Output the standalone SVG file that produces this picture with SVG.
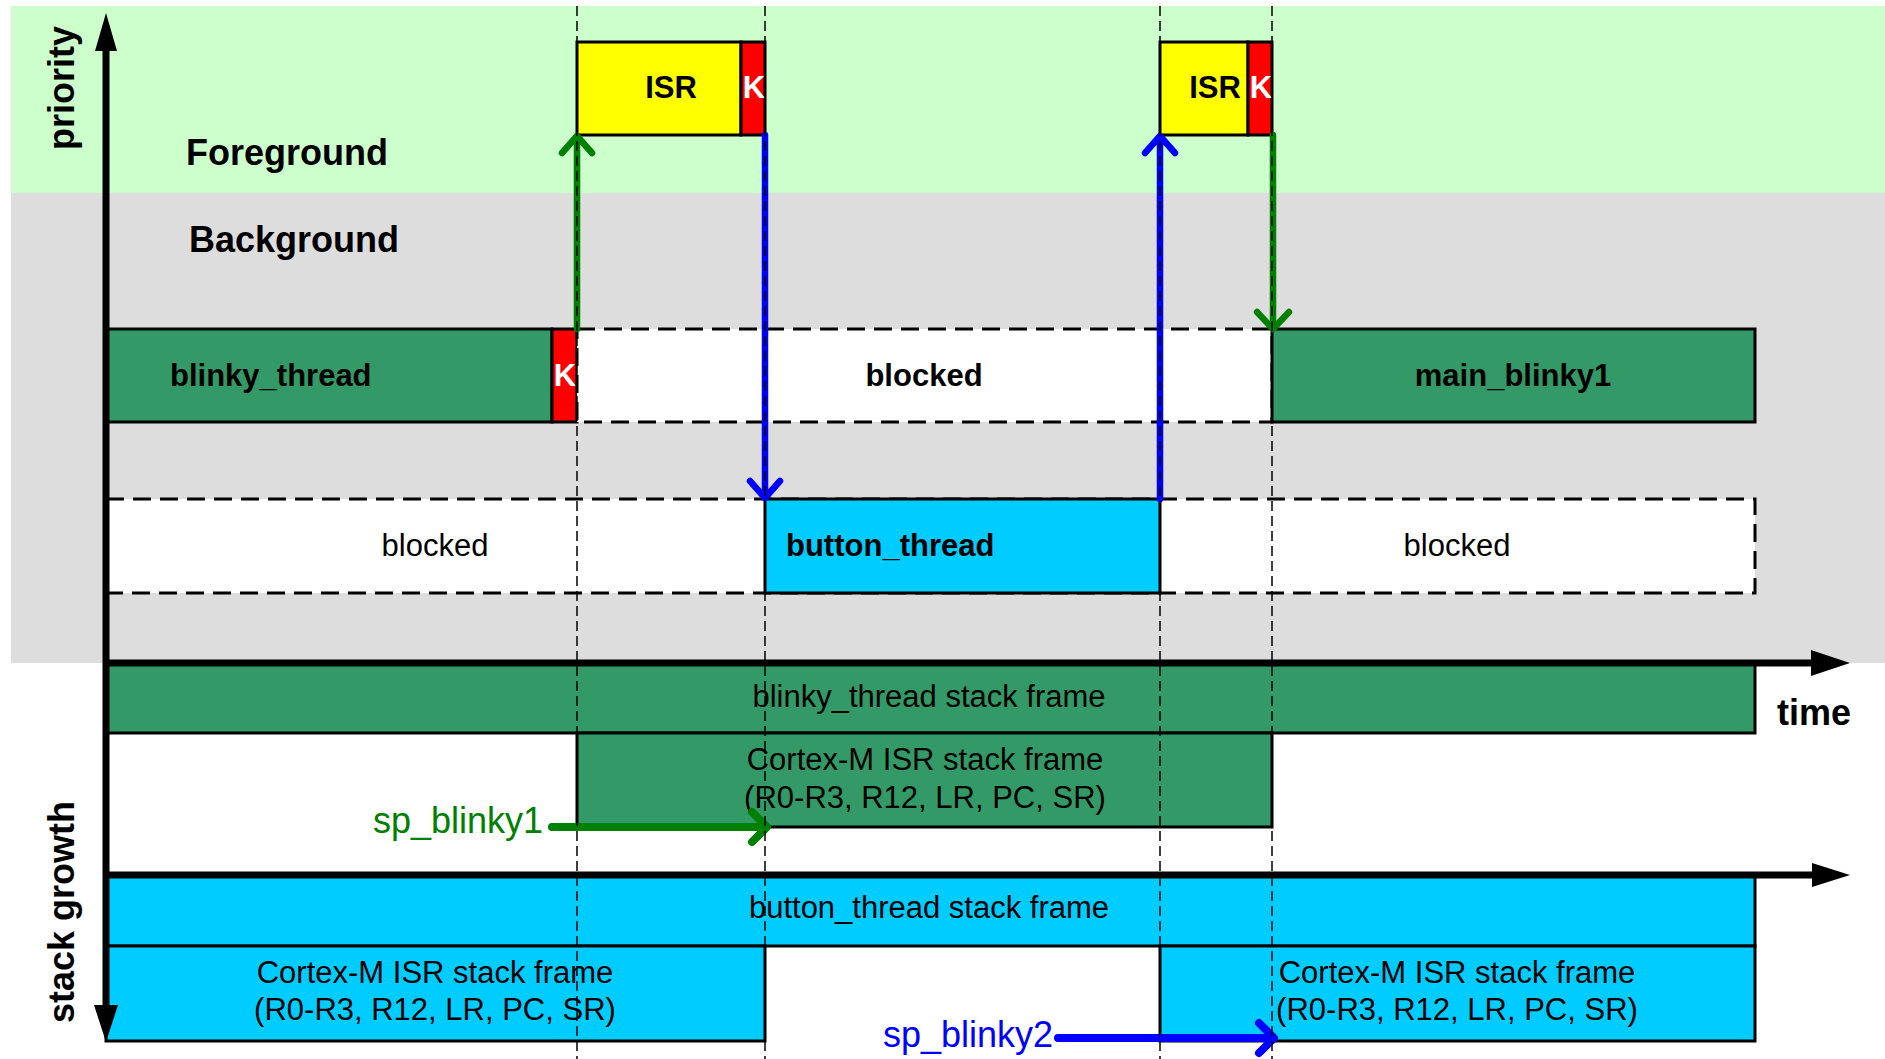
<svg xmlns="http://www.w3.org/2000/svg" width="1885" height="1059" viewBox="0 0 1885 1059">
  <style>
    text { font-family: "Liberation Sans", Arial, sans-serif; fill: #000; }
    .b { font-weight: bold; }
    .lbl { font-size: 31px; }
    .big { font-size: 36px; }
    .mid { text-anchor: middle; }
    .box { stroke: #000; stroke-width: 3; }
    .dash { fill: #fff; stroke: #000; stroke-width: 3; stroke-dasharray: 18 9; }
    .thread { fill: #339966; }
    .btn { fill: #00CCFF; }
    .isr { fill: #FFFF00; }
    .kern { fill: #FF0000; }
    .kt { fill: #fff; font-weight: bold; font-size: 31px; text-anchor: middle; }
    .guide { stroke: #000; stroke-width: 1.5; stroke-dasharray: 10 5; fill: none; }
    .axis { stroke: #000; stroke-width: 7; fill: none; }
    .g { stroke: #008000; }
    .bl { stroke: #0000FF; }
    .arr { stroke-width: 6.5; fill: none; stroke-linecap: round; stroke-linejoin: round; }
    .sp { stroke-width: 8; }
  </style>

  <!-- priority regions -->
  <g id="bands">
    <rect x="11" y="6" width="1874" height="187" fill="#CCFFCC"/>
    <rect x="11" y="193" width="1874" height="470" fill="#DDDDDD"/>
    <text class="b big" x="186" y="165">Foreground</text>
    <text class="b big" x="189" y="252">Background</text>
  </g>

  <!-- foreground: interrupt service routines -->
  <g id="isr1">
    <rect class="box isr" x="577" y="42" width="164" height="93"/>
    <rect class="box kern" x="741" y="42" width="24" height="93"/>
    <text class="b lbl mid" x="671" y="98">ISR</text>
    <text class="kt" x="754" y="98">K</text>
  </g>
  <g id="isr2">
    <rect class="box isr" x="1160" y="42" width="88" height="93"/>
    <rect class="box kern" x="1248" y="42" width="24" height="93"/>
    <text class="b lbl mid" x="1215" y="98">ISR</text>
    <text class="kt" x="1261" y="98">K</text>
  </g>

  <!-- background: blinky thread row -->
  <g id="blinky-row">
    <rect class="box thread" x="106" y="329" width="446" height="93"/>
    <rect class="box kern" x="552" y="329" width="25" height="93"/>
    <text class="kt" x="565" y="386">K</text>
    <text class="b lbl" x="170" y="386">blinky_thread</text>
    <rect class="dash" x="577" y="329" width="695" height="93"/>
    <text class="b lbl mid" x="924" y="386">blocked</text>
    <rect class="box thread" x="1272" y="329" width="483" height="93"/>
    <text class="b lbl mid" x="1513" y="386">main_blinky1</text>
  </g>

  <!-- background: button thread row -->
  <g id="button-row">
    <rect class="dash" x="106" y="499" width="1649" height="94"/>
    <rect class="box btn" x="765" y="499" width="395" height="94"/>
    <text class="b lbl" x="786" y="556">button_thread</text>
    <text class="lbl mid" x="435" y="556">blocked</text>
    <text class="lbl mid" x="1457" y="556">blocked</text>
  </g>

  <!-- blinky thread stack -->
  <g id="blinky-stack">
    <rect class="box thread" x="106" y="663" width="1649" height="70"/>
    <text class="lbl mid" x="929" y="707">blinky_thread stack frame</text>
    <rect class="box thread" x="577" y="733" width="695" height="94"/>
    <text class="lbl mid" x="925" y="770">Cortex-M ISR stack frame</text>
    <text class="lbl mid" x="925" y="808">(R0-R3, R12, LR, PC, SR)</text>
  </g>

  <!-- button thread stack -->
  <g id="button-stack">
    <rect class="box btn" x="106" y="875" width="1649" height="71"/>
    <text class="lbl mid" x="929" y="918">button_thread stack frame</text>
    <rect class="box btn" x="106" y="946" width="659" height="95"/>
    <text class="lbl mid" x="435" y="983">Cortex-M ISR stack frame</text>
    <text class="lbl mid" x="435" y="1020">(R0-R3, R12, LR, PC, SR)</text>
    <rect class="box btn" x="1160" y="946" width="595" height="95"/>
    <text class="lbl mid" x="1457" y="983">Cortex-M ISR stack frame</text>
    <text class="lbl mid" x="1457" y="1020">(R0-R3, R12, LR, PC, SR)</text>
  </g>

  <!-- axes -->
  <g id="axes">
    <line class="axis" x1="106" y1="45" x2="106" y2="1010"/>
    <polygon points="106,13 95,51 117,51" fill="#000"/>
    <polygon points="106,1042 94,1005 118,1005" fill="#000"/>
    <line class="axis" x1="106" y1="663" x2="1815" y2="663"/>
    <polygon points="1850,663 1811,650 1811,676" fill="#000"/>
    <line class="axis" x1="106" y1="875" x2="1815" y2="875"/>
    <polygon points="1850,875 1812,863 1812,887" fill="#000"/>
    <text class="b big mid" transform="translate(74,88) rotate(-90)">priority</text>
    <text class="b big mid" transform="translate(74,912) rotate(-90)">stack growth</text>
    <text class="b big" x="1777" y="725">time</text>
  </g>

  <!-- stack pointer labels -->
  <g id="sp-labels">
    <text class="big" x="543" y="833" text-anchor="end" style="fill:#008000">sp_blinky1</text>
    <text class="big" x="1053" y="1047" text-anchor="end" style="fill:#0000FF">sp_blinky2</text>
  </g>

  <!-- context-switch and stack-pointer connectors -->
  <g id="connectors">
    <path class="arr g" d="M577,329 V137 M562,153 L577,136 L592,153"/>
    <path class="arr bl" d="M765,135 V497 M750,481 L765,498 L780,481"/>
    <path class="arr bl" d="M1160,499 V137 M1145,153 L1160,136 L1175,153"/>
    <path class="arr g" d="M1273,135 V327 M1257,312 L1273,329 L1289,312"/>
    <path class="arr sp g" d="M552,827 H765 M752,812 L767,827 L752,842"/>
    <path class="arr sp bl" d="M1058,1038 H1272 M1259,1023 L1274,1038 L1259,1053"/>
  </g>

  <!-- time instants -->
  <g id="guides">
    <line class="guide" x1="577" y1="6" x2="577" y2="1059"/>
    <line class="guide" x1="765" y1="6" x2="765" y2="1059"/>
    <line class="guide" x1="1160" y1="6" x2="1160" y2="1059"/>
    <line class="guide" x1="1272" y1="6" x2="1272" y2="1059"/>
  </g>
</svg>
